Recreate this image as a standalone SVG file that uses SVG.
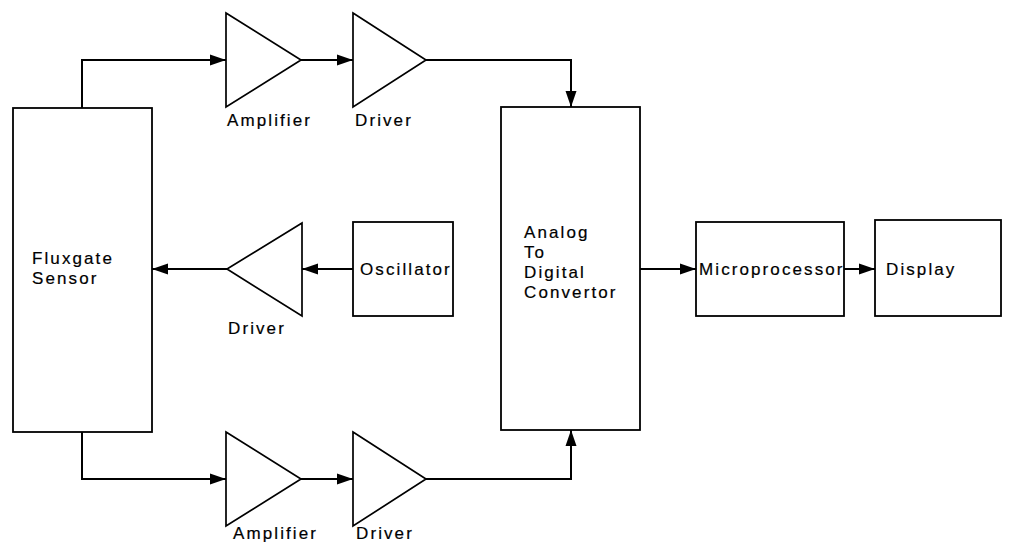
<svg xmlns="http://www.w3.org/2000/svg" width="1010" height="542" viewBox="0 0 1010 542">
  <style>
    .box { fill: #fff; stroke: #000; stroke-width: 1.8; }
    .amp { fill: #fff; stroke: #000; stroke-width: 1.7; stroke-linejoin: miter; }
    .wire { fill: none; stroke: #000; stroke-width: 2; }
    text { font-family: "Liberation Sans", Arial, sans-serif; font-size: 17px; letter-spacing: 2.1px; fill: #000; stroke: #000; stroke-width: 0.2; }
  </style>
  <defs>
    <marker id="arrow" markerUnits="userSpaceOnUse" markerWidth="17" markerHeight="13" refX="16" refY="6.5" orient="auto">
      <path d="M0,1 L16,6.5 L0,12 Z" fill="#000"/>
    </marker>
  </defs>
  <rect width="1010" height="542" fill="#fff"/>

  <g id="connectors">
    <path class="wire" d="M82,108 V60 H226" marker-end="url(#arrow)"/>
    <path class="wire" d="M301,60 H353" marker-end="url(#arrow)"/>
    <path class="wire" d="M426,60 H571 V107" marker-end="url(#arrow)"/>
    <path class="wire" d="M353,269 H302" marker-end="url(#arrow)"/>
    <path class="wire" d="M227,269 H152" marker-end="url(#arrow)"/>
    <path class="wire" d="M82,432 V479 H226" marker-end="url(#arrow)"/>
    <path class="wire" d="M301,479 H353" marker-end="url(#arrow)"/>
    <path class="wire" d="M426,479 H571 V430" marker-end="url(#arrow)"/>
    <path class="wire" d="M640,269 H696" marker-end="url(#arrow)"/>
    <path class="wire" d="M844,269 H875" marker-end="url(#arrow)"/>
  </g>

  <g id="fluxgate-sensor">
    <rect class="box" x="13" y="108" width="139" height="324"/>
    <text x="32" y="264">Fluxgate</text>
    <text x="32" y="284">Sensor</text>
  </g>

  <g id="amplifier-top">
    <polygon class="amp" points="226,13 301,60 226,107"/>
    <text x="227" y="126">Amplifier</text>
  </g>

  <g id="driver-top">
    <polygon class="amp" points="353,13 426,60 353,107"/>
    <text x="355" y="126">Driver</text>
  </g>

  <g id="driver-middle">
    <polygon class="amp" points="302,223 227,269 302,316"/>
    <text x="228" y="334">Driver</text>
  </g>

  <g id="oscillator">
    <rect class="box" x="353" y="222" width="100" height="94"/>
    <text x="360" y="275">Oscillator</text>
  </g>

  <g id="amplifier-bottom">
    <polygon class="amp" points="226,432 301,479 226,526"/>
    <text x="233" y="539">Amplifier</text>
  </g>

  <g id="driver-bottom">
    <polygon class="amp" points="353,432 426,479 353,526"/>
    <text x="356" y="539">Driver</text>
  </g>

  <g id="adc">
    <rect class="box" x="501" y="107" width="139" height="323"/>
    <text x="524" y="238">Analog</text>
    <text x="524" y="258">To</text>
    <text x="524" y="278">Digital</text>
    <text x="524" y="298">Convertor</text>
  </g>

  <g id="microprocessor">
    <rect class="box" x="696" y="222" width="148" height="94"/>
    <text x="699" y="275">Microprocessor</text>
  </g>

  <g id="display">
    <rect class="box" x="875" y="220" width="126" height="96"/>
    <text x="886" y="275">Display</text>
  </g>
</svg>
